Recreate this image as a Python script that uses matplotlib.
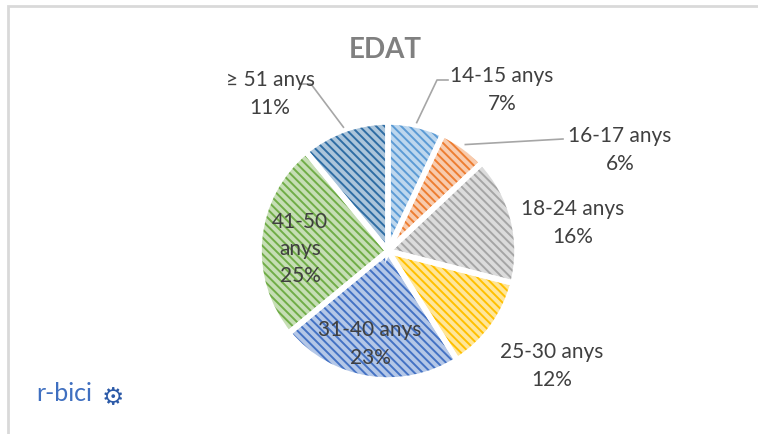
import matplotlib
matplotlib.use("Agg")
import matplotlib.pyplot as plt
import numpy as np
from matplotlib.patches import Rectangle

# data
labels = ["14-15 anys", "16-17 anys", "18-24 anys", "25-30 anys",
          "31-40 anys", "41-50\nanys", "≥ 51 anys"]
values = [7, 6, 16, 12, 23, 25, 11]
colors = ["#5b9bd5", "#ed7d31", "#a5a5a5", "#ffc000",
          "#4472c4", "#70ad47", "#2e6da4"]

plt.rcParams['font.family'] = ['Lato', 'DejaVu Sans']
plt.rcParams['hatch.linewidth'] = 1.4

W, H = 758, 435
fig = plt.figure(figsize=(W / 100, H / 100), dpi=100)
ax = fig.add_axes([0, 0, 1, 1])

# pie centre / radius in pixels
cx, cy, R = 388, 252, 129


def px(x, y):
    # pixel position (from top-left) -> data coords
    return (x - cx) / R, (cy - y) / R


def tint(c, f=0.6):
    rgb = np.array(matplotlib.colors.to_rgb(c))
    return tuple(rgb + (1 - rgb) * f)


wedges, _ = ax.pie(values, colors=[tint(c) for c in colors], startangle=90,
                   counterclock=False, radius=1,
                   wedgeprops=dict(linewidth=0))
for w, c in zip(wedges, colors):
    w.set_edgecolor(c)
    w.set_linewidth(0)
    w.set_hatch('\\' * 4)

# white gaps between slices
ax.pie(values, startangle=90, counterclock=False, radius=1,
       wedgeprops=dict(fill=False, edgecolor='white', linewidth=4))

ax.set_xlim(-cx / R, (W - cx) / R)
ax.set_ylim(-(H - cy) / R, cy / R)
ax.axis('off')

txt = "#404040"
pcts = ["%d%%" % v for v in values]

# label block centres (pixels) and leader line corners
label_pos = [(502, 90), (620, 150), (573, 223), (552, 366),
             (370, 344), (300, 249), (270, 94)]
leader = {0: [(437, 81), (448, 81)],
          1: [(563, 140)],
          6: [(311, 85), (302, 85)]}

for i, (lab, p) in enumerate(zip(labels, pcts)):
    x, y = px(*label_pos[i])
    ax.text(x, y, lab + "\n" + p, ha='center', va='center', fontsize=15,
            color=txt, linespacing=1.45)

# leader lines from slice edge
cum = np.cumsum([0] + values)
for i, pts in leader.items():
    mid = 90 - 360 * (cum[i] + values[i] / 2) / sum(values)
    a = np.deg2rad(mid)
    xs = [np.cos(a) * 1.02]
    ys = [np.sin(a) * 1.02]
    for p in pts:
        xx, yy = px(*p)
        xs.append(xx)
        ys.append(yy)
    ax.plot(xs, ys, color="#a6a6a6", lw=1.2)

# title
tx, ty = px(385, 50)
ax.text(tx, ty, "EDAT", ha='center', va='center', fontsize=20,
        fontweight='bold', color="#808080")

# logo text
lx, ly = px(64, 394)
ax.text(lx, ly, "r-bici", ha='center', va='center', fontsize=18,
        color="#3f6fc0")
gx, gy = px(113, 398)
ax.text(gx, gy, "⚙", ha='center', va='center', fontsize=18,
        color="#2c5aa8", family=['DejaVu Sans'])

# chart frame (top and left edges visible)
fig.patches.append(Rectangle((8 / W, -0.1), 1.2, 1 - 7 / H + 0.1,
                             transform=fig.transFigure, fill=False,
                             edgecolor="#d9d9d9", lw=2))

fig.savefig("out.png", dpi=100)
